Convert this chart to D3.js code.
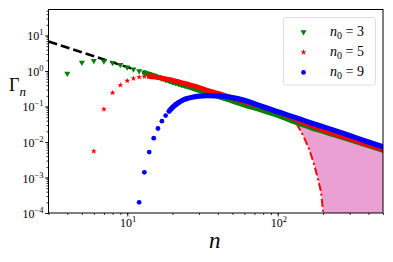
<!DOCTYPE html>
<html>
<head>
  <meta http-equiv="Content-Type" content="text/html; charset=UTF-8">
  <style>
    body { margin: 0; background: #fff; }
    text { font-family: "Liberation Serif", "DejaVu Serif", serif; fill: #000; }
    .tick line { stroke: #000; stroke-width: 0.8px; }
    .band { fill: none; stroke-linecap: round; stroke-linejoin: round; }
  </style>
</head>
<body>
  <svg width="393" height="262"></svg>
  <script src="https://cdn.jsdelivr.net/npm/d3@7"></script>
  <script>
    // n0 = 3 (green triangles)
    var greenN = [4, 5, 6, 7, 8, 9, 10, 11, 12, 13, 14, 15, 16, 17, 18, 19, 20, 21, 22, 23, 24, 25,
                  30, 34, 40, 50, 60, 77, 100, 135, 165, 200, 300, 400, 500];
    var greenV = [0.85, 1.74, 1.93, 1.89, 1.70, 1.49, 1.28, 1.12, 1.0, 0.90, 0.81, 0.74, 0.675, 0.62, 0.57, 0.53, 0.49, 0.46, 0.435, 0.41, 0.39, 0.37,
                  0.285, 0.245, 0.192, 0.142, 0.110, 0.080, 0.056, 0.0345, 0.0255, 0.0198, 0.0116, 0.0079, 0.0058];
    // n0 = 5 (red stars)
    var redN = [6, 7, 8, 9, 10, 11, 12, 13, 14, 15, 16, 17, 18, 19, 20, 21, 22, 23, 24, 25,
                30, 34, 40, 48, 56, 70, 100, 135, 165, 200, 300, 400, 500];
    var redV = [0.0055, 0.084, 0.243, 0.40, 0.53, 0.615, 0.67, 0.70, 0.70, 0.68, 0.655, 0.63, 0.60, 0.575, 0.55, 0.52, 0.495, 0.47, 0.45, 0.43,
                0.345, 0.285, 0.235, 0.185, 0.150, 0.112, 0.070, 0.041, 0.0295, 0.0218, 0.0123, 0.0083, 0.0063];
    // n0 = 9 (blue dots)
    var blueN = [12, 13, 14, 15, 16, 17, 18, 19, 20, 21, 22, 23, 24, 25, 27, 30, 34, 40, 45, 50,
                 60, 70, 80, 100, 135, 165, 200, 300, 400, 500];
    var blueV = [2.0e-4, 1.4e-3, 5.2e-3, 0.0128, 0.024, 0.0386, 0.0557, 0.074, 0.094, 0.113, 0.130, 0.145, 0.158, 0.168, 0.183, 0.196, 0.203, 0.200, 0.190, 0.178,
                 0.150, 0.120, 0.098, 0.0714, 0.047, 0.0350, 0.0271, 0.0153, 0.0100, 0.0073];
    // asymptote (black dashed)
    var asymN = [3, 11];
    var asymV = [6.8, 1.13];
    // cut-off curve (red dash-dot)
    var cutN = [133, 149, 162.5, 173.6, 185.8, 195.5, 199.5, 203];
    var cutV = [0.033, 0.01365, 0.00577, 0.00243, 8.2e-4, 2.79e-4, 1.18e-4, 5e-5];

    var yTicks = [-4, -3, -2, -1, 0, 1];
    var xTicks = [1, 2];
    var legendLabels = ["3", "5", "9"];

    var svg = d3.select("svg"),
        m = {left: 48.5, right: 383, top: 9.5, bottom: 213};

    var x = d3.scaleLog().domain([3, 500]).range([m.left, m.right]),
        y = d3.scaleLog().domain([1e-4, 54]).range([m.bottom, m.top]);

    function pts(ns, vs) { return ns.map(function(n, i) { return [n, vs[i]]; }); }

    var line = d3.line()
        .x(function(d) { return x(d[0]); })
        .y(function(d) { return y(d[1]); })
        .curve(d3.curveMonotoneX);

    svg.append("defs").append("clipPath")
        .attr("id", "clip")
      .append("rect")
        .attr("x", m.left).attr("y", m.top)
        .attr("width", m.right - m.left).attr("height", m.bottom - m.top);

    var plot = svg.append("g").attr("clip-path", "url(#clip)");

    // pink region between the n0=3 tail and the cut-off curve
    var cut = pts(cutN, cutV);
    var upper = pts(greenN, greenV).filter(function(d) { return d[0] >= 135; });
    var poly = [cut[0]].concat(upper)
        .concat([[500, 1e-6], [cutN[cutN.length - 1], 1e-6]])
        .concat(cut.slice().reverse());
    plot.append("path")
        .attr("d", "M" + poly.map(function(d) { return x(d[0]) + "," + Math.min(y(d[1]), 400); }).join("L") + "Z")
        .attr("fill", "#e377c2")
        .attr("fill-opacity", 0.7);

    plot.append("path")
        .datum(cut)
        .attr("d", line)
        .attr("fill", "none")
        .attr("stroke", "red")
        .attr("stroke-width", 2)
        .attr("stroke-dasharray", "8,3,2,3");

    plot.append("path")
        .datum(pts(asymN, asymV))
        .attr("d", d3.line().x(function(d) { return x(d[0]); }).y(function(d) { return y(d[1]); }))
        .attr("fill", "none")
        .attr("stroke", "#000")
        .attr("stroke-width", 2.5)
        .attr("stroke-dasharray", "9,4");

    var series = [
      {n: greenN, v: greenV, color: "green", sym: d3.symbolTriangle, size: 16, rot: 180, band: 13, w: 5},
      {n: redN, v: redV, color: "red", sym: d3.symbolStar, size: 11, rot: 0, band: 14, w: 4.8},
      {n: blueN, v: blueV, color: "blue", sym: d3.symbolCircle, size: 18, rot: 0, band: 19, w: 5.2}
    ];

    series.forEach(function(s) {
      var data = pts(s.n, s.v);
      plot.append("path")
          .datum(data.filter(function(d) { return d[0] >= s.band; }))
          .attr("class", "band")
          .attr("d", line)
          .attr("stroke", s.color)
          .attr("stroke-width", s.w);
      plot.selectAll(null)
          .data(data.filter(function(d) { return d[0] <= 25; }))
          .enter().append("path")
          .attr("d", d3.symbol().type(s.sym).size(s.size))
          .attr("transform", function(d) { return "translate(" + x(d[0]) + "," + y(d[1]) + ") rotate(" + s.rot + ")"; })
          .attr("fill", s.color);
    });

    // axes
    var yMinor = [];
    for (var e = -4; e < 2; e++) for (var k = 1; k < 10; k++) {
      var t = k * Math.pow(10, e);
      if (t >= 1e-4 && t <= 54) yMinor.push(t);
    }
    var xMinor = [];
    for (var e2 = 0; e2 < 3; e2++) for (var k2 = 1; k2 < 10; k2++) {
      var t2 = k2 * Math.pow(10, e2);
      if (t2 >= 3 && t2 <= 500) xMinor.push(t2);
    }

    svg.append("g")
        .attr("transform", "translate(" + m.left + ",0)")
        .call(d3.axisLeft(y).tickValues(yMinor).tickSize(2).tickFormat(""))
        .call(function(g) { g.select(".domain").remove(); });
    svg.append("g")
        .attr("transform", "translate(" + m.left + ",0)")
        .call(d3.axisLeft(y).tickValues(yTicks.map(function(p) { return Math.pow(10, p); })).tickSize(3.5).tickFormat(""))
        .call(function(g) { g.select(".domain").remove(); });
    svg.append("g")
        .attr("transform", "translate(0," + m.bottom + ")")
        .call(d3.axisBottom(x).tickValues(xMinor).tickSize(2).tickFormat(""))
        .call(function(g) { g.select(".domain").remove(); });
    svg.append("g")
        .attr("transform", "translate(0," + m.bottom + ")")
        .call(d3.axisBottom(x).tickValues(xTicks.map(function(p) { return Math.pow(10, p); })).tickSize(3.5).tickFormat(""))
        .call(function(g) { g.select(".domain").remove(); });

    function powLabel(g, p, anchor) {
      var t = g.append("text").attr("text-anchor", anchor).attr("font-size", 12);
      t.append("tspan").text("10");
      t.append("tspan").attr("font-size", 8.5).attr("dy", -5)
          .text(p < 0 ? "\u2212" + (-p) : String(p));
      return t;
    }

    yTicks.forEach(function(p) {
      powLabel(svg.append("g").attr("transform", "translate(" + (m.left - 5) + "," + (y(Math.pow(10, p)) + 5) + ")"), p, "end");
    });
    xTicks.forEach(function(p) {
      powLabel(svg.append("g").attr("transform", "translate(" + (x(Math.pow(10, p)) + 1) + "," + 227 + ")"), p, "middle");
    });

    svg.append("rect")
        .attr("x", m.left).attr("y", m.top)
        .attr("width", m.right - m.left).attr("height", m.bottom - m.top)
        .attr("fill", "none")
        .attr("stroke", "#000")
        .attr("stroke-width", 1);

    // axis labels
    var yl = svg.append("text").attr("x", 9).attr("y", 91).attr("font-size", 18);
    yl.append("tspan").text("\u0393");
    yl.append("tspan").attr("font-style", "italic").attr("font-size", 13).attr("dy", 5).text("n");

    svg.append("text")
        .attr("x", 209).attr("y", 248)
        .attr("font-size", 23)
        .attr("font-style", "italic")
        .text("n");

    // legend
    var legend = svg.append("g");
    legend.append("rect")
        .attr("x", 283.5).attr("y", 17.5)
        .attr("width", 92).attr("height", 67.5)
        .attr("rx", 2.5)
        .attr("fill", "#fff").attr("fill-opacity", 0.8)
        .attr("stroke", "#d5d5d5").attr("stroke-width", 0.8);

    series.forEach(function(s, i) {
      var ly = 32 + i * 20.2;
      legend.append("path")
          .attr("d", d3.symbol().type(s.sym).size(s.size))
          .attr("transform", "translate(303.5," + ly + ") rotate(" + s.rot + ")")
          .attr("fill", s.color);
      var t = legend.append("text").attr("x", 330).attr("y", ly + 4).attr("font-size", 14);
      t.append("tspan").attr("font-style", "italic").text("n");
      t.append("tspan").attr("font-size", 10).attr("dy", 3).text("0");
      t.append("tspan").attr("dy", -3).text(" = " + legendLabels[i]);
    });
  </script>
</body>
</html>
